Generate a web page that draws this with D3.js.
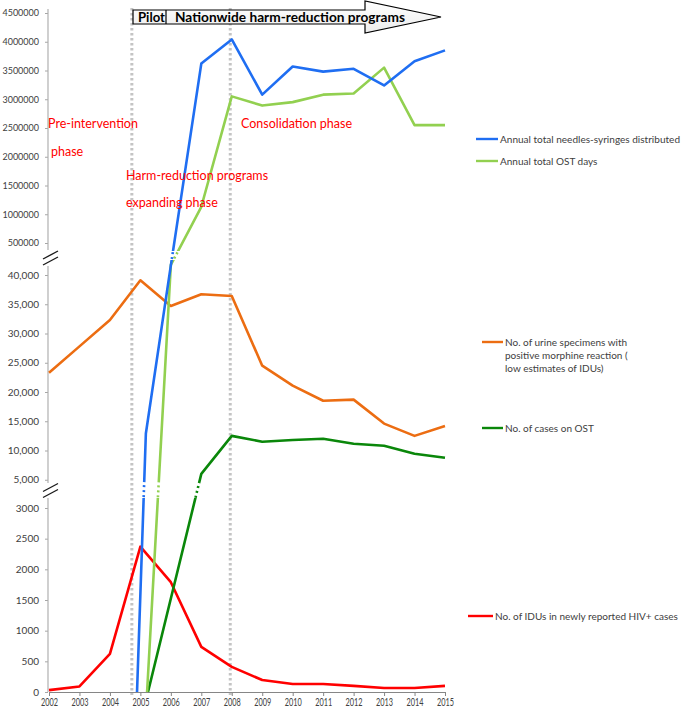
<!DOCTYPE html>
<html>
<head>
<title>harm-reduction phases</title>
<script src="https://d3js.org/d3.v7.min.js"></script>
<style>
  body { margin: 0; background: #fff; }
  text { font-family: Lato, "Open Sans", sans-serif; }
</style>
</head>
<body>
<div id="vis"></div>
<script>
var width = 685, height = 707;

// ---- data ----
var years = [2002, 2003, 2004, 2005, 2006, 2007, 2008, 2009, 2010, 2011, 2012, 2013, 2014, 2015];
var needles  = [null, null, null, null, 110000, 3620000, 4040000, 3080000, 3570000, 3480000, 3530000, 3240000, 3660000, 3850000];
var ostDays  = [null, null, null, null, 120000, 1130000, 3050000, 2890000, 2950000, 3080000, 3100000, 3550000, 2550000, 2550000];
var urine    = [23300, 27800, 32300, 39100, 34700, 36700, 36400, 24500, 21100, 18500, 18700, 14600, 12500, 14200];
var ostCases = [null, null, null, null, null, 6000, 12500, 11500, 11800, 12000, 11150, 10800, 9450, 8750];
var hiv      = [30, 90, 620, 2370, 1790, 735, 410, 195, 130, 130, 100, 65, 65, 100];

// where a line is drawn down through the broken axes: [year, panel, value]
var needlesLead  = [[2004.89, "low", 0], [2005.18, "mid", 12900]];
var ostDaysLead  = [[2005.22, "low", 0]];
var ostCasesLead = [[2005.25, "low", 0]];

var topTicks = [500000, 1000000, 1500000, 2000000, 2500000, 3000000, 3500000, 4000000, 4500000];
var midTicks = [5000, 10000, 15000, 20000, 25000, 30000, 35000, 40000];
var lowTicks = [0, 500, 1000, 1500, 2000, 2500, 3000];

var phaseYears = [2004.72, 2007.95];

var svg = d3.select("#vis").append("svg")
  .attr("width", width)
  .attr("height", height);

var x = d3.scaleLinear().domain([2002, 2015]).range([49, 445]);

var y = {
  top: d3.scaleLinear().domain([0, 4500000]).range([271.75, 13]),
  mid: d3.scaleLinear().domain([0, 40000]).range([509, 275]),
  low: d3.scaleLinear().domain([0, 3000]).range([692, 508])
};
// visible stretch of each axis line
var shown = { top: [9, 250], mid: [266, 483], low: [498, 692] };
// bands between panels where crossing lines turn dotted
var gaps = [[251, 260], [482, 498]];

// clip paths
var defs = svg.append("defs");
var solid = defs.append("clipPath").attr("id", "solid");
var cuts = [0].concat(gaps.flat()).concat([height]);
for (var i = 0; i < cuts.length; i += 2) {
  solid.append("rect").attr("x", 0).attr("width", width)
    .attr("y", cuts[i]).attr("height", cuts[i + 1] - cuts[i]);
}
var gapClip = defs.append("clipPath").attr("id", "gap");
gaps.forEach(function (g) {
  gapClip.append("rect").attr("x", 0).attr("width", width)
    .attr("y", g[0]).attr("height", g[1] - g[0]);
});

// phase dividers
svg.append("g").selectAll("line")
  .data(phaseYears)
  .enter().append("line")
  .attr("x1", function (d) { return x(d); })
  .attr("x2", function (d) { return x(d); })
  .attr("y1", 8).attr("y2", 695)
  .attr("stroke", "#c4c4c4")
  .attr("stroke-width", 3)
  .attr("stroke-dasharray", "2.5,2.5");

// y axes
function yAxis(name, ticks, fmt, fs) {
  var g = svg.append("g")
    .attr("transform", "translate(48,0)")
    .call(d3.axisLeft(y[name]).tickValues(ticks).tickFormat(fmt).tickSize(3).tickPadding(6));
  g.select(".domain").remove();
  g.selectAll(".tick line").attr("stroke", "#a6a6a6");
  g.selectAll(".tick text").attr("fill", "#404040").style("font-size", fs + "px")
    .style("font-family", "Lato, sans-serif");
  g.append("line").attr("x1", 0).attr("x2", 0)
    .attr("y1", shown[name][0]).attr("y2", shown[name][1])
    .attr("stroke", "#b0b0b0").attr("stroke-width", 1.2);
}
yAxis("top", topTicks, d3.format("d"), 9);
yAxis("mid", midTicks, d3.format(","), 10);
yAxis("low", lowTicks, d3.format("d"), 10);

// break marks
[(shown.top[1] + shown.mid[0]) / 2, (shown.mid[1] + shown.low[0]) / 2].forEach(function (c) {
  [-3, 3].forEach(function (o) {
    svg.append("line")
      .attr("x1", 43).attr("y1", c + o + 4)
      .attr("x2", 58).attr("y2", c + o - 4)
      .attr("stroke", "#1a1a1a").attr("stroke-width", 1.4);
  });
});

// x axis
var xg = svg.append("g")
  .attr("transform", "translate(0," + y.low(0) + ")")
  .call(d3.axisBottom(x).tickValues(years).tickFormat(d3.format("d")).tickSize(4).tickSizeOuter(0).tickPadding(3));
xg.select(".domain").attr("stroke", "#868686");
xg.selectAll(".tick line").attr("stroke", "#868686");
xg.selectAll(".tick text").attr("fill", "#404040").style("font-size", "10.5px")
  .style("font-family", "Lato, sans-serif")
  .attr("textLength", 17).attr("lengthAdjust", "spacingAndGlyphs");

// lines
var line = d3.line()
  .x(function (d) { return x(d[0]); })
  .y(function (d) { return y[d[1]](d[2]); });

function pts(vals, panel, lead) {
  var p = years.map(function (yr, i) { return [yr, panel, vals[i]]; })
    .filter(function (d) { return d[2] != null; });
  return (lead || []).concat(p);
}

var series = [
  { name: "hiv", pts: pts(hiv, "low"), color: "#ff0000" },
  { name: "urine", pts: pts(urine, "mid"), color: "#ec6d12" },
  { name: "ostCases", pts: pts(ostCases, "mid", ostCasesLead), color: "#0a870a" },
  { name: "ostDays", pts: pts(ostDays, "top", ostDaysLead), color: "#92d050" },
  { name: "needles", pts: pts(needles, "top", needlesLead), color: "#1f6ef2" }
];

series.forEach(function (s) {
  svg.append("path")
    .attr("d", line(s.pts))
    .attr("fill", "none")
    .attr("stroke", s.color)
    .attr("stroke-width", 2.6)
    .attr("stroke-linejoin", "round")
    .attr("clip-path", "url(#solid)");
  svg.append("path")
    .attr("d", line(s.pts))
    .attr("fill", "none")
    .attr("stroke", s.color)
    .attr("stroke-width", 2.6)
    .attr("stroke-dasharray", "2,3")
    .attr("clip-path", "url(#gap)");
});

// phase labels
var phaseText = [
  { t: "Pre-intervention", x: 48, y: 128 },
  { t: "phase", x: 51, y: 156 },
  { t: "Harm-reduction programs", x: 126, y: 180 },
  { t: "expanding phase", x: 126, y: 207 },
  { t: "Consolidation phase", x: 241, y: 128 }
];
svg.append("g").selectAll("text")
  .data(phaseText)
  .enter().append("text")
  .attr("x", function (d) { return d.x; })
  .attr("y", function (d) { return d.y; })
  .attr("fill", "#ff0000")
  .style("font-size", "12.5px")
  .text(function (d) { return d.t; });

// header arrow
var grad = defs.append("linearGradient").attr("id", "arrowFill")
  .attr("x1", 0).attr("y1", 0).attr("x2", 0).attr("y2", 1);
grad.append("stop").attr("offset", "0%").attr("stop-color", "#ffffff");
grad.append("stop").attr("offset", "100%").attr("stop-color", "#ececec");
svg.append("polygon")
  .attr("points", "133,10 365,10 365,1 441,17 365,33 365,24 133,24")
  .attr("fill", "url(#arrowFill)")
  .attr("stroke", "#000")
  .attr("stroke-width", 1.2);
svg.append("line").attr("x1", 166).attr("x2", 166).attr("y1", 10).attr("y2", 24)
  .attr("stroke", "#000").attr("stroke-width", 1.2);
svg.append("text").attr("x", 138).attr("y", 22)
  .style("font-size", "12.5px").style("font-weight", "bold")
  .attr("textLength", 27).attr("lengthAdjust", "spacingAndGlyphs")
  .text("Pilot");
svg.append("text").attr("x", 175).attr("y", 22)
  .style("font-size", "13.5px").style("font-weight", "bold")
  .attr("textLength", 230).attr("lengthAdjust", "spacingAndGlyphs")
  .text("Nationwide harm-reduction programs");

// legend
var legend = [
  { color: "#1f6ef2", x1: 476, x2: 498, y: 139, lines: ["Annual total needles-syringes distributed"], w: 180 },
  { color: "#92d050", x1: 476, x2: 498, y: 161, lines: ["Annual total OST days"] },
  { color: "#ec6d12", x1: 482, x2: 503, y: 342, lines: ["No. of urine specimens with", "positive morphine reaction (", "low estimates of IDUs)"] },
  { color: "#0a870a", x1: 482, x2: 503, y: 428, lines: ["No. of cases on OST"] },
  { color: "#ff0000", x1: 468, x2: 493, y: 616, lines: ["No. of IDUs in newly reported HIV+ cases"] }
];
var lg = svg.append("g").selectAll("g").data(legend).enter().append("g");
lg.append("line")
  .attr("x1", function (d) { return d.x1; })
  .attr("x2", function (d) { return d.x2; })
  .attr("y1", function (d) { return d.y; })
  .attr("y2", function (d) { return d.y; })
  .attr("stroke", function (d) { return d.color; })
  .attr("stroke-width", 2.4);
lg.each(function (d) {
  var g = d3.select(this);
  d.lines.forEach(function (t, i) {
    var tx = g.append("text")
      .attr("x", d.x2 + 2)
      .attr("y", d.y + i * 13)
      .attr("dy", "0.35em")
      .attr("fill", "#404040")
      .style("font-size", "10px")
      .text(t);
    if (d.w) tx.attr("textLength", d.w).attr("lengthAdjust", "spacingAndGlyphs");
  });
});
</script>
</body>
</html>
